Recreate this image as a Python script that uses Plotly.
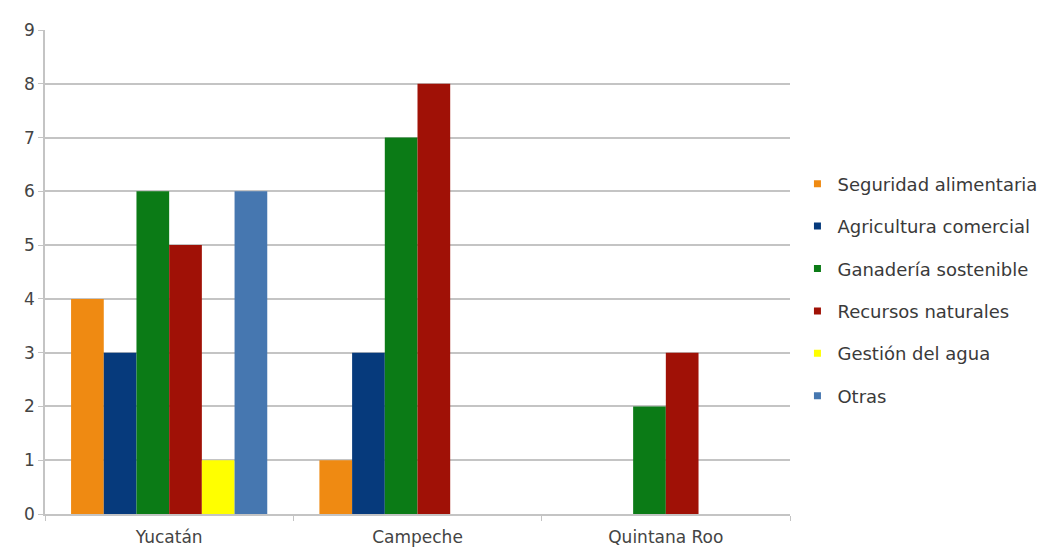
import plotly.graph_objects as go

categories = ["Yucatán", "Campeche", "Quintana Roo"]
series_names = ["Seguridad alimentaria", "Agricultura comercial", "Ganadería sostenible",
                "Recursos naturales", "Gestión del agua", "Otras"]
seguridad = [4, 1, 0]
agricultura = [3, 3, 0]
ganaderia = [6, 7, 2]
recursos = [5, 8, 3]
agua = [1, 0, 0]
otras = [6, 0, 0]
values = [seguridad, agricultura, ganaderia, recursos, agua, otras]
colors = ["#ef8a12", "#063a7c", "#0b7b16", "#a01106", "#ffff00", "#4677b0"]

FONT = "DejaVu Sans, Liberation Sans, Arial, sans-serif"

fig = go.Figure()
for name, vals, col in zip(series_names, values, colors):
    fig.add_trace(go.Bar(x=categories, y=vals, name=name, marker_color=col,
                         marker_line_width=0, showlegend=False))
for i, (name, col) in enumerate(zip(series_names, colors)):
    fig.add_trace(go.Scatter(x=[categories[0]], y=[None], mode="markers", name=name,
                             legendgroup=f"g{i}",
                             marker=dict(symbol="square", size=7, color=col)))

# page has an 8px body margin, so the figure is drawn 8px smaller and offset
fig.update_layout(
    width=1053, height=548,
    paper_bgcolor="white", plot_bgcolor="white",
    font=dict(family=FONT, size=17, color="#444"),
    margin=dict(l=37, r=271, t=22, b=42, autoexpand=False),
    barmode="group", bargap=0.21, bargroupgap=0,
    legend=dict(x=1.01, xanchor="left", y=0.72, yanchor="top",
                traceorder="grouped", tracegroupgap=16, itemwidth=30,
                font=dict(family=FONT, size=18, color="#3a3a3a")),
)
fig.update_yaxes(range=[0, 9], dtick=1, showgrid=True, gridcolor="#c4c4c4", gridwidth=1.5,
                 showline=True, linecolor="#c4c4c4", linewidth=1.5,
                 ticks="outside", ticklen=5, tickcolor="#c4c4c4", automargin=False,
                 tickfont=dict(family=FONT, size=17, color="#444"), zeroline=False, fixedrange=True)
fig.update_xaxes(showline=True, linecolor="#c4c4c4", linewidth=1.5,
                 ticks="outside", tickson="boundaries", ticklen=5, tickcolor="#c4c4c4",
                 ticklabelstandoff=7, automargin=False,
                 tickfont=dict(family=FONT, size=17, color="#444"), fixedrange=True)

fig.write_html("out.html")
